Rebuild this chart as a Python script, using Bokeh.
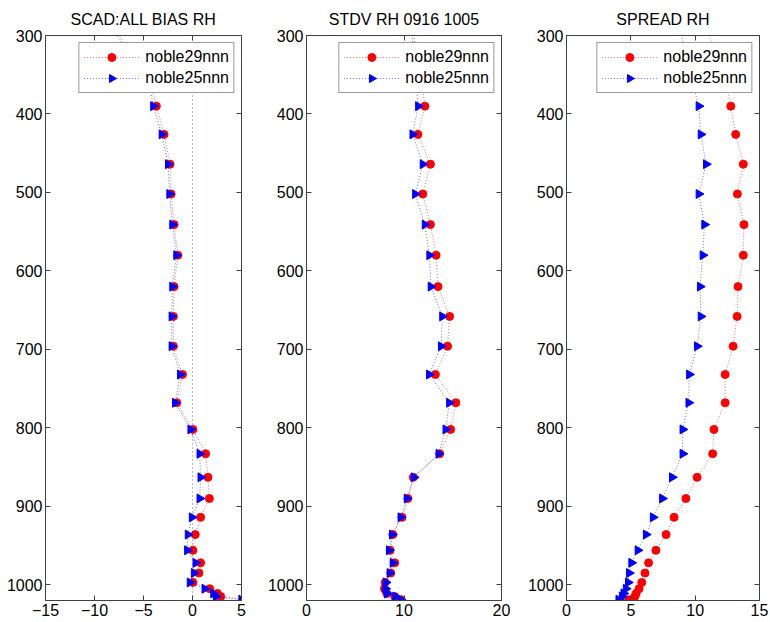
import numpy as np
from bokeh.plotting import figure
from bokeh.layouts import row
from bokeh.models import Range1d, LinearAxis, FixedTicker, Span, CustomJS
from bokeh.embed import file_html
from bokeh.resources import INLINE

# ---------------- data ----------------
levels = [288, 321, 355, 390, 426, 464, 502, 541, 580, 620, 658, 696, 732, 768,
          802, 833, 863, 890, 914, 936, 956, 972, 985, 997, 1005, 1011, 1015, 1019]

bias_29 = [-8.0, -6.5, -4.4, -3.69, -2.9, -2.29, -2.18, -1.88, -1.5, -1.88, -1.95, -1.95,
           -1.02, -1.6, 0.04, 1.34, 1.58, 1.72, 0.83, 0.28, 0.04, 0.83, 0.66, 0.04,
           1.76, 2.54, 2.88, 5.5]
bias_25 = [-8.3, -6.6, -4.5, -4.0, -3.14, -2.49, -2.35, -2.05, -1.64, -2.05, -2.12, -2.12,
           -1.26, -1.77, -0.2, 0.73, 0.83, 0.73, -0.06, -0.47, -0.54, 0.32, 0.15, -0.27,
           1.24, 2.13, 2.4, 5.0]

stdv_29 = [11.0, 11.1, 11.8, 12.14, 11.42, 12.71, 11.93, 12.71, 13.29, 13.49, 14.68, 14.47,
           13.22, 15.32, 14.78, 13.66, 10.95, 10.4, 9.8, 8.85, 8.58, 9.05, 8.64, 8.07,
           8.0, 8.24, 9.05, 9.73]
stdv_25 = [10.8, 10.9, 11.2, 11.46, 10.88, 11.93, 11.15, 12.14, 12.61, 12.75, 13.93, 13.8,
           12.58, 14.64, 14.27, 13.56, 11.02, 10.3, 9.66, 8.78, 8.47, 8.85, 8.54, 8.14,
           8.1, 8.27, 9.12, 9.66]

spread_29 = [10.9, 11.5, 12.3, 12.77, 13.15, 13.74, 13.28, 13.79, 13.74, 13.33, 13.26, 12.95,
             12.33, 12.33, 11.46, 11.36, 10.15, 9.28, 8.36, 7.74, 6.95, 6.38, 6.1, 5.85,
             5.64, 5.41, 5.31, 4.82]
spread_25 = [8.8, 9.2, 9.7, 10.28, 10.44, 10.85, 10.28, 10.72, 10.59, 10.38, 10.44, 10.15,
             9.54, 9.49, 9.03, 9.03, 8.21, 7.44, 6.72, 6.18, 5.54, 5.05, 4.87, 4.79,
             4.62, 4.44, 4.31, 4.05]

titles = ["SCAD:ALL BIAS RH", "STDV RH 0916 1005", "SPREAD RH"]
series_names = ["noble29nnn", "noble25nnn"]
x_ranges = [(-15, 5), (0, 20), (0, 15)]
x_ticks = [[-15, -10, -5, 0, 5], [0, 10, 20], [0, 5, 10, 15]]
y_ticks = [300, 400, 500, 600, 700, 800, 900, 1000]
y_limits = (1020, 300)
zero_ref = 0

FONT = "Liberation Sans"
AX = "#404040"
H = 620
TOP = 35
BOT = 20

# right-pointing triangle marker (MATLAB '>')
tri_right = CustomJS(code="""
let ctx = null, i = 0, r = 4, visuals = null;
for (const a of arguments) {
  if (a && typeof a === "object" && a.ctx !== undefined && a.visuals !== undefined) {
    ctx = a.ctx; i = a.i; r = a.r; visuals = a.visuals;
  }
}
if (ctx == null) return;
const h = r * Math.sqrt(3);
const a3 = h / 3;
ctx.moveTo(-a3, -r);
ctx.lineTo(-a3, r);
ctx.lineTo(h - a3, 0);
ctx.closePath();
visuals.fill.apply(ctx, i);
visuals.hatch.apply(ctx, i);
visuals.line.apply(ctx, i);
""")


def style_axis(ax, ticks, show_labels):
    ax.ticker = FixedTicker(ticks=ticks)
    ax.major_tick_in = 5
    ax.major_tick_out = 0
    ax.minor_tick_line_color = None
    ax.axis_line_color = AX
    ax.major_tick_line_color = AX
    ax.major_label_text_font = FONT
    if show_labels:
        ax.major_label_text_color = "black"
        ax.major_label_text_font_size = "16px"
        ax.major_label_standoff = 3
    else:
        ax.major_label_text_color = None
        ax.major_label_text_font_size = "1px"
        ax.major_label_standoff = 0


def make_panel(title, xr, xt, s29, s25, lb, fw, rb, zero=False):
    p = figure(width=lb + fw + rb, height=H,
               x_range=Range1d(*xr), y_range=Range1d(*y_limits),
               output_backend="svg", toolbar_location=None,
               min_border_left=lb, min_border_right=rb,
               min_border_top=TOP, min_border_bottom=BOT,
               title=title)
    p.title.align = "center"
    p.title.vertical_align = "middle"
    p.title.text_font = FONT
    p.title.text_font_size = "16px"
    p.title.text_font_style = "normal"
    p.title.text_color = "black"
    p.title.standoff = 14
    p.grid.visible = False
    p.outline_line_color = AX
    p.background_fill_color = "white"
    p.border_fill_color = "white"

    style_axis(p.xaxis[0], xt, True)
    style_axis(p.yaxis[0], y_ticks, True)
    ax_r = LinearAxis()
    style_axis(ax_r, y_ticks, False)
    p.add_layout(ax_r, "right")
    ax_t = LinearAxis()
    style_axis(ax_t, xt, False)
    p.add_layout(ax_t, "above")

    if zero:
        p.add_layout(Span(location=zero_ref, dimension="height", line_color="blue",
                          line_dash="1 3", line_width=1, line_alpha=0.6))

    p.line(s29, levels, line_color="red", line_dash="1 2", line_width=1, line_alpha=0.6,
           legend_label=series_names[0])
    p.scatter(s29, levels, marker="circle", size=8, fill_color="red", line_color="red",
              legend_label=series_names[0])
    p.line(s25, levels, line_color="blue", line_dash="1 2", line_width=1, line_alpha=0.6,
           legend_label=series_names[1])
    p.scatter(s25, levels, marker="@tri_right", defs={"@tri_right": tri_right}, size=9,
              fill_color="blue", line_color="blue", legend_label=series_names[1])

    lg = p.legend[0]
    lg.location = "top_right"
    lg.margin = 7
    lg.padding = 4
    lg.spacing = 1
    lg.glyph_width = 56
    lg.glyph_height = 20
    lg.label_height = 20
    lg.label_standoff = 6
    lg.label_text_font = FONT
    lg.label_text_font_size = "16px"
    lg.label_text_color = "black"
    lg.border_line_color = "#333333"
    lg.border_line_width = 1
    lg.background_fill_color = "white"
    lg.background_fill_alpha = 1.0
    return p


p1 = make_panel(titles[0], x_ranges[0], x_ticks[0], bias_29, bias_25, 45, 196, 23, zero=True)
p2 = make_panel(titles[1], x_ranges[1], x_ticks[1], stdv_29, stdv_25, 39, 198, 23)
p3 = make_panel(titles[2], x_ranges[2], x_ticks[2], spread_29, spread_25, 39, 196, 10)

layout = row(p1, p2, p3)
open("out.html", "w").write(file_html(layout, INLINE))
